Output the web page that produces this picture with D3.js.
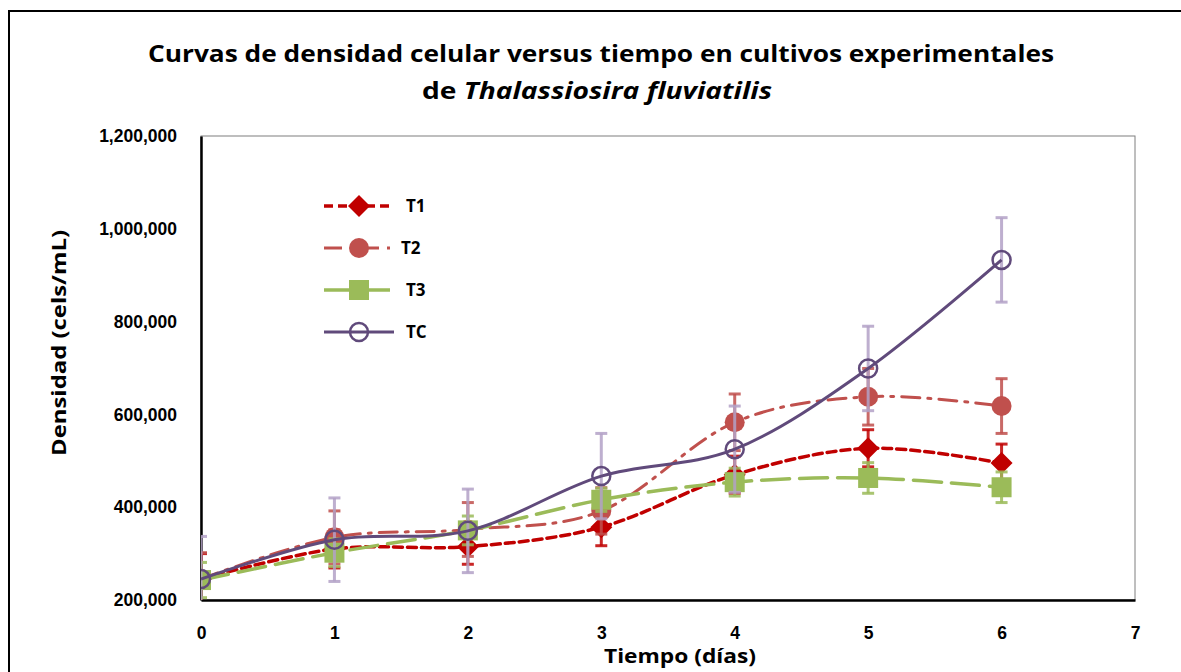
<!DOCTYPE html>
<html lang="es">
<head>
<meta charset="UTF-8">
<title>Curvas de densidad celular</title>
<script src="https://d3js.org/d3.v7.min.js"></script>
<style>
  body { margin: 0; background: #fff; }
  svg { display: block; font-family: "Open Sans", "Noto Sans", sans-serif; }
  .tick text { font-size: 17.5px; font-weight: 700; fill: #000; }
  .axis-label { font-size: 20px; font-weight: 700; }
  .legend text { font-size: 17px; font-weight: 700; }
</style>
</head>
<body>
<svg width="1181" height="672"></svg>
<script>
// data
const days = [0, 1, 2, 3, 4, 5, 6];
const xTicks = [0, 1, 2, 3, 4, 5, 6, 7];
const yTicks = [200000, 400000, 600000, 800000, 1000000, 1200000];

const t1 = [245000, 310000, 315000, 357000, 470000, 527000, 495000];
const t1Err = [55000, 41000, 38000, 40000, 40000, 40000, 41000];
const t2 = [245000, 335000, 352000, 392000, 583000, 638000, 618000];
const t2Err = [57000, 57000, 58000, 50000, 61000, 61000, 59000];
const t3 = [243000, 302000, 350000, 416000, 454000, 463000, 443000];
const t3Err = [38000, 30000, 31000, 25000, 30000, 33000, 33000];
const tc = [245000, 330000, 349000, 467000, 525000, 699000, 933000];
const tcErr = [92000, 90000, 90000, 92000, 93000, 91000, 91000];

const series = [
  {name: "T1", values: t1, err: t1Err, color: "#C00000", errColor: "#C00000", dash: "9,5", width: 3.5, marker: "diamond"},
  {name: "T2", values: t2, err: t2Err, color: "#C0504D", errColor: "#C0504D", dash: "18,8,3,8", width: 3, marker: "circle"},
  {name: "T3", values: t3, err: t3Err, color: "#9BBB59", errColor: "#9BBB59", dash: "28,10", width: 3.5, marker: "square"},
  {name: "TC", values: tc, err: tcErr, color: "#604A7B", errColor: "#B3A2C7", dash: null, width: 3, marker: "ring"}
];

const svg = d3.select("svg");
const margin = {left: 201, right: 1135, top: 136, bottom: 600};

const x = d3.scaleLinear().domain([0, 7]).range([margin.left, margin.right]);
const y = d3.scaleLinear().domain([200000, 1200000]).range([margin.bottom, margin.top]);

// outer chart frame
svg.append("rect")
  .attr("x", 9).attr("y", 11).attr("width", 1200).attr("height", 700)
  .attr("fill", "none").attr("stroke", "#000").attr("stroke-width", 2);

// title
svg.append("text")
  .attr("x", 601).attr("y", 62)
  .attr("text-anchor", "middle")
  .attr("textLength", 906).attr("lengthAdjust", "spacingAndGlyphs")
  .style("font-size", "24px").style("font-weight", 700)
  .text("Curvas de densidad celular versus tiempo en cultivos experimentales");
const sub = svg.append("text")
  .attr("x", 597).attr("y", 99)
  .attr("text-anchor", "middle")
  .attr("textLength", 350).attr("lengthAdjust", "spacingAndGlyphs")
  .style("font-size", "24px").style("font-weight", 700);
sub.append("tspan").text("de ");
sub.append("tspan").style("font-style", "italic").text("Thalassiosira fluviatilis");

// plot area box
svg.append("rect")
  .attr("x", margin.left).attr("y", margin.top)
  .attr("width", margin.right - margin.left).attr("height", margin.bottom - margin.top)
  .attr("fill", "none").attr("stroke", "#7f7f7f").attr("stroke-width", 1);

// axes
const yAxis = svg.append("g")
  .attr("transform", `translate(${margin.left},0)`)
  .call(d3.axisLeft(y).tickValues(yTicks).tickFormat(d3.format(",")).tickSize(0).tickPadding(24));
yAxis.select(".domain").attr("stroke", "#000").attr("stroke-width", 2.5);

const xAxis = svg.append("g")
  .attr("transform", `translate(0,${margin.bottom})`)
  .call(d3.axisBottom(x).tickValues(xTicks).tickFormat(d3.format("d")).tickSize(0).tickPadding(27));
xAxis.select(".domain").attr("stroke", "#000").attr("stroke-width", 2.5);

svg.append("text")
  .attr("class", "axis-label")
  .attr("transform", "rotate(-90)")
  .attr("x", -343).attr("y", 66)
  .attr("text-anchor", "middle")
  .attr("textLength", 226).attr("lengthAdjust", "spacingAndGlyphs")
  .text("Densidad (cels/mL)");

svg.append("text")
  .attr("class", "axis-label")
  .attr("x", 680).attr("y", 663)
  .attr("text-anchor", "middle")
  .attr("textLength", 152).attr("lengthAdjust", "spacingAndGlyphs")
  .text("Tiempo (días)");

// clip for data
svg.append("clipPath").attr("id", "plot-clip")
  .append("rect")
  .attr("x", margin.left).attr("y", margin.top)
  .attr("width", margin.right - margin.left).attr("height", margin.bottom - margin.top);

const plot = svg.append("g").attr("clip-path", "url(#plot-clip)");

const line = d3.line()
  .x((d, i) => x(days[i]))
  .y(d => y(d))
  .curve(d3.curveCatmullRom.alpha(0));

function drawMarker(g, type, cx, cy, s) {
  if (type === "diamond") {
    g.append("path")
      .attr("d", `M${cx},${cy - 11}L${cx + 11},${cy}L${cx},${cy + 11}L${cx - 11},${cy}Z`)
      .attr("fill", s.color);
  } else if (type === "circle") {
    g.append("circle").attr("cx", cx).attr("cy", cy).attr("r", 10).attr("fill", s.color);
  } else if (type === "square") {
    g.append("rect").attr("x", cx - 10).attr("y", cy - 10).attr("width", 20).attr("height", 20)
      .attr("fill", s.color);
  } else {
    g.append("circle").attr("cx", cx).attr("cy", cy).attr("r", 9)
      .attr("fill", "none").attr("stroke", s.color).attr("stroke-width", 2.5);
  }
}

series.forEach(s => {
  const g = plot.append("g");

  // error bars
  s.values.forEach((v, i) => {
    const cx = x(days[i]);
    const top = y(v + s.err[i]), bot = y(v - s.err[i]);
    g.append("line").attr("x1", cx).attr("x2", cx).attr("y1", top).attr("y2", bot)
      .attr("stroke", s.errColor).attr("stroke-width", 3).attr("opacity", 0.85);
    [top, bot].forEach(yy => {
      g.append("line").attr("x1", cx - 6).attr("x2", cx + 6).attr("y1", yy).attr("y2", yy)
        .attr("stroke", s.errColor).attr("stroke-width", 3).attr("opacity", 0.85);
    });
  });

  g.append("path")
    .datum(s.values)
    .attr("d", line)
    .attr("fill", "none")
    .attr("stroke", s.color)
    .attr("stroke-width", s.width)
    .attr("stroke-dasharray", s.dash)
    .attr("stroke-linecap", s.dash ? "round" : "butt");

  s.values.forEach((v, i) => drawMarker(g, s.marker, x(days[i]), y(v), s));
});

// legend
const legend = svg.append("g").attr("class", "legend");
series.forEach((s, i) => {
  const ly = 206 + i * 42;
  const lg = legend.append("g");
  lg.append("line")
    .attr("x1", 324).attr("x2", 394).attr("y1", ly).attr("y2", ly)
    .attr("stroke", s.color).attr("stroke-width", s.width)
    .attr("stroke-dasharray", s.dash);
  drawMarker(lg, s.marker, 359, ly, s);
  lg.append("text")
    .attr("x", i === 1 ? 401 : 406).attr("y", ly + 6)
    .text(s.name);
});
</script>
</body>
</html>
